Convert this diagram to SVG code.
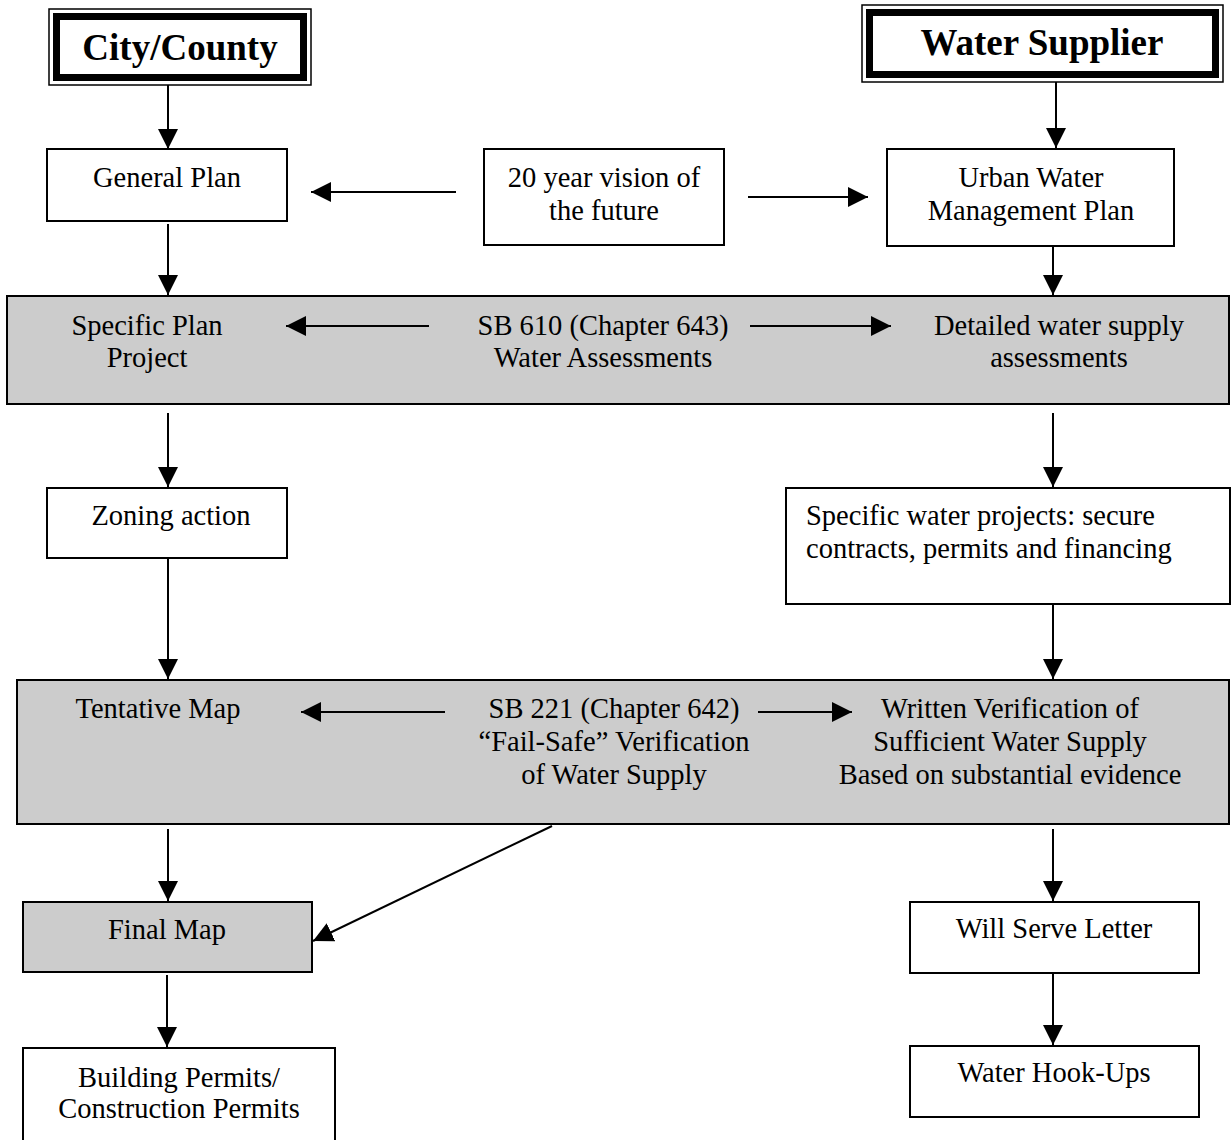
<svg xmlns="http://www.w3.org/2000/svg" width="1231" height="1140" viewBox="0 0 1231 1140">
<style>
.box{fill:#ffffff;stroke:#000;stroke-width:2}
.gray{fill:#cccccc;stroke:#000;stroke-width:2}
.thin{fill:#ffffff;stroke:#000;stroke-width:1.5}
.thick{fill:none;stroke:#000;stroke-width:7}
text{font-family:"Liberation Serif","Times New Roman",serif;font-size:28.5px;fill:#000;text-anchor:middle}
.title{font-weight:bold;font-size:37px}
.left{text-anchor:start}
.conn line{stroke:#000;stroke-width:2;marker-end:url(#arr)}
</style>
<defs>
<marker id="arr" markerUnits="userSpaceOnUse" markerWidth="20" markerHeight="20" refX="20" refY="10" orient="auto">
<path d="M0,0 L20,10 L0,20 z" fill="#000"/>
</marker>
</defs>

<g id="city-county">
<rect class="thin" x="49" y="9" width="262" height="76"/>
<rect class="thick" x="56.5" y="16.5" width="247" height="61"/>
<text class="title" x="180" y="60">City/County</text>
</g>

<g id="water-supplier">
<rect class="thin" x="862" y="5" width="361" height="77"/>
<rect class="thick" x="869.5" y="12.5" width="346" height="62"/>
<text class="title" x="1042" y="55">Water Supplier</text>
</g>

<g id="general-plan">
<rect class="box" x="47" y="149" width="240" height="72"/>
<text x="167" y="187">General Plan</text>
</g>

<g id="vision">
<rect class="box" x="484" y="149" width="240" height="96"/>
<text x="604" y="187">20 year vision of</text>
<text x="604" y="220">the future</text>
</g>

<g id="uwmp">
<rect class="box" x="887" y="149" width="287" height="97"/>
<text x="1031" y="187">Urban Water</text>
<text x="1031" y="220">Management Plan</text>
</g>

<g id="sb610">
<rect class="gray" x="7" y="296" width="1222" height="108"/>
<text x="147" y="335">Specific Plan</text>
<text x="147" y="367">Project</text>
<text x="603" y="335">SB 610 (Chapter 643)</text>
<text x="603" y="367">Water Assessments</text>
<text x="1059" y="335">Detailed water supply</text>
<text x="1059" y="367">assessments</text>
</g>

<g id="zoning">
<rect class="box" x="47" y="488" width="240" height="70"/>
<text x="171" y="525">Zoning action</text>
</g>

<g id="water-projects">
<rect class="box" x="786" y="488" width="444" height="116"/>
<text class="left" x="806" y="525">Specific water projects: secure</text>
<text class="left" x="806" y="558">contracts, permits and financing</text>
</g>

<g id="sb221">
<rect class="gray" x="17" y="680" width="1212" height="144"/>
<text x="158" y="718">Tentative Map</text>
<text x="614" y="718">SB 221 (Chapter 642)</text>
<text x="614" y="751">“Fail-Safe” Verification</text>
<text x="614" y="784">of Water Supply</text>
<text x="1010" y="718">Written Verification of</text>
<text x="1010" y="751">Sufficient Water Supply</text>
<text x="1010" y="784">Based on substantial evidence</text>
</g>

<g id="final-map">
<rect class="gray" x="23" y="902" width="289" height="70"/>
<text x="167" y="939">Final Map</text>
</g>

<g id="will-serve">
<rect class="box" x="910" y="902" width="289" height="71"/>
<text x="1054" y="938">Will Serve Letter</text>
</g>

<g id="building-permits">
<rect class="box" x="23" y="1048" width="312" height="110"/>
<text x="179" y="1087">Building Permits/</text>
<text x="179" y="1118">Construction Permits</text>
</g>

<g id="hook-ups">
<rect class="box" x="910" y="1046" width="289" height="71"/>
<text x="1054" y="1082">Water Hook-Ups</text>
</g>

<g id="connectors" class="conn">
<line x1="168" y1="85" x2="168" y2="149"/>
<line x1="1056" y1="82" x2="1056" y2="148"/>
<line x1="456" y1="192" x2="311" y2="192"/>
<line x1="748" y1="197" x2="868" y2="197"/>
<line x1="168" y1="224" x2="168" y2="295"/>
<line x1="1053" y1="247" x2="1053" y2="295"/>
<line x1="429" y1="326" x2="286" y2="326"/>
<line x1="750" y1="326" x2="891" y2="326"/>
<line x1="168" y1="413" x2="168" y2="487"/>
<line x1="1053" y1="413" x2="1053" y2="487"/>
<line x1="168" y1="558" x2="168" y2="679"/>
<line x1="1053" y1="604" x2="1053" y2="679"/>
<line x1="445" y1="712" x2="301" y2="712"/>
<line x1="758" y1="712" x2="852" y2="712"/>
<line x1="168" y1="829" x2="168" y2="901"/>
<line x1="552" y1="826" x2="313" y2="941"/>
<line x1="1053" y1="829" x2="1053" y2="901"/>
<line x1="167" y1="975" x2="167" y2="1047"/>
<line x1="1053" y1="973" x2="1053" y2="1045"/>
</g>
</svg>
